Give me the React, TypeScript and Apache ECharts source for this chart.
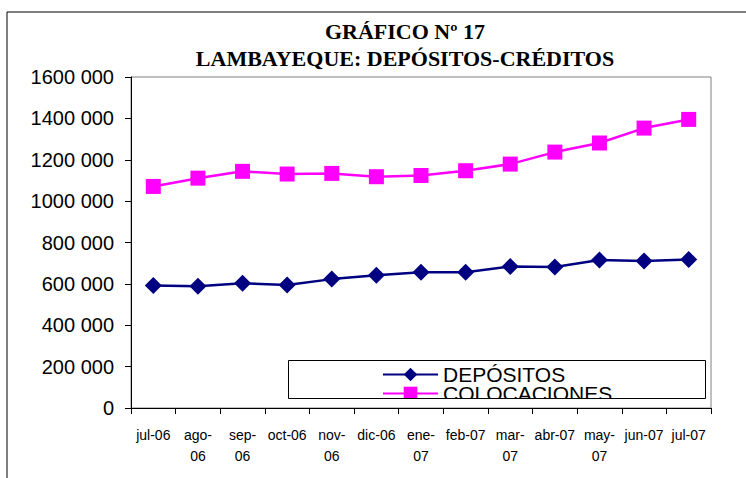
import React, { useEffect, useRef } from "react";
import * as echarts from "echarts";

const categories = ["jul-06", "ago-\n06", "sep-\n06", "oct-06", "nov-\n06", "dic-06", "ene-\n07", "feb-07", "mar-\n07", "abr-07", "may-\n07", "jun-07", "jul-07"];
const depositos = [592000, 589000, 603000, 595000, 623000, 642000, 656000, 656000, 684000, 682000, 715000, 711000, 718000];
const colocaciones = [1071000, 1111000, 1144000, 1131000, 1134000, 1118000, 1124000, 1147000, 1179000, 1237000, 1281000, 1353000, 1395000];
const titleLines = ["GRÁFICO Nº 17", "LAMBAYEQUE: DEPÓSITOS-CRÉDITOS"];

const fmt = (v: number) => (v === 0 ? "0" : `${Math.floor(v / 1000)} ${String(v % 1000).padStart(3, "0")}`);

export default function App() {
  const ref = useRef<HTMLDivElement>(null);
  useEffect(() => {
    const chart = echarts.init(ref.current!, null, { renderer: "svg" });
    chart.setOption({
      animation: false,
      backgroundColor: "#ffffff",
      title: {
        text: titleLines.join("\n"),
        left: 405,
        top: 18,
        padding: 0,
        textAlign: "center",
        textStyle: { fontFamily: "'Liberation Serif', 'Times New Roman', serif", fontWeight: "bold", fontSize: 22, lineHeight: 27, color: "#000" },
      },
      grid: { left: 131, right: 35, top: 77, bottom: 70, show: true, borderColor: "#808080", borderWidth: 1, backgroundColor: "transparent" },
      xAxis: {
        type: "category",
        data: categories,
        boundaryGap: true,
        axisLine: { lineStyle: { color: "#000", width: 1 } },
        axisTick: { show: true, alignWithLabel: false, length: 6, lineStyle: { color: "#000" } },
        axisLabel: { color: "#000", fontFamily: "'Liberation Sans Narrow', 'Arial Narrow', 'Liberation Sans', Arial", fontSize: 14, lineHeight: 21, margin: 16, interval: 0 },
      },
      yAxis: {
        type: "value",
        min: 0,
        max: 1600000,
        interval: 200000,
        splitLine: { show: false },
        axisLine: { show: true, lineStyle: { color: "#000", width: 1 } },
        axisTick: { show: true, length: 6, lineStyle: { color: "#000" } },
        axisLabel: { color: "#000", fontFamily: "'Liberation Sans', Arial", fontSize: 20, margin: 17, formatter: fmt },
      },
      legend: {
        orient: "vertical",
        left: 382,
        top: 364,
        itemWidth: 55,
        itemHeight: 17,
        itemGap: -2,
        padding: 0,
        textStyle: { color: "#000", fontFamily: "'Liberation Sans', Arial", fontSize: 21, lineHeight: 17 },
        data: ["DEPÓSITOS", "COLOCACIONES"],
      },
      graphic: [
        { type: "rect", z: 100, silent: true, shape: { x: 7, y: 12, width: 800, height: 500 }, style: { fill: "none", stroke: "#000", lineWidth: 1 } },
        { type: "rect", z: 100, silent: true, shape: { x: 289, y: 399, width: 416, height: 8 }, style: { fill: "#fff" } },
        { type: "rect", z: 101, silent: true, shape: { x: 288.5, y: 360.5, width: 417, height: 38 }, style: { fill: "none", stroke: "#000", lineWidth: 1 } },
      ],
      series: [
        {
          name: "DEPÓSITOS",
          type: "line",
          data: depositos,
          symbol: "diamond",
          symbolSize: 17,
          lineStyle: { color: "#000080", width: 2.5 },
          itemStyle: { color: "#000080" },
        },
        {
          name: "COLOCACIONES",
          type: "line",
          data: colocaciones,
          symbol: "rect",
          symbolSize: 15,
          lineStyle: { color: "#FF00FF", width: 2.5 },
          itemStyle: { color: "#FF00FF" },
        },
      ],
    });
    return () => chart.dispose();
  }, []);
  return <div ref={ref} style={{ position: "absolute", left: 0, top: 0, width: 746, height: 478 }} />;
}
